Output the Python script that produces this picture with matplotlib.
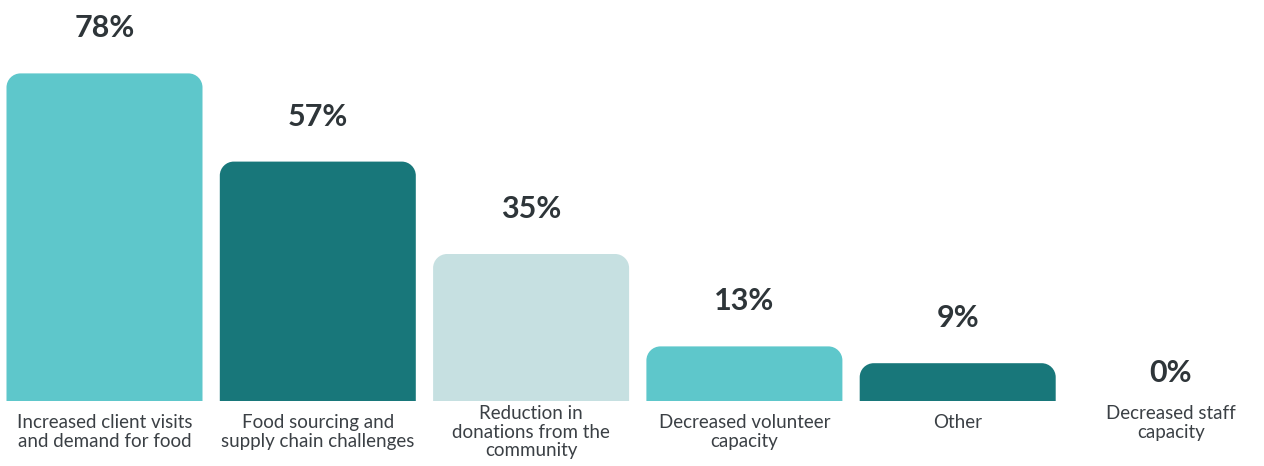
import matplotlib
matplotlib.use("Agg")
import matplotlib.pyplot as plt
from matplotlib.path import Path
from matplotlib.patches import PathPatch

categories = [
    "Increased client visits\nand demand for food",
    "Food sourcing and\nsupply chain challenges",
    "Reduction in\ndonations from the\ncommunity",
    "Decreased volunteer\ncapacity",
    "Other",
    "Decreased staff\ncapacity",
]
values = [78, 57, 35, 13, 9, 0]
colors = ["#5EC7CB", "#18777A", "#C6E0E1", "#5EC7CB", "#18777A", "#5EC7CB"]

W, H, DPI = 1264, 466, 100
fig = plt.figure(figsize=(W / DPI, H / DPI), dpi=DPI)
ax = fig.add_axes([0, 0, 1, 1])

# pixel scale: ~213 px between bars, 4.2 px per percentage point
px_x = 213.3
px_y = 4.2
x0_px = 104.5
base_px = 401.0
ax.set_xlim(-x0_px / px_x, (W - x0_px) / px_x)
ax.set_ylim(-(H - base_px) / px_y, base_px / px_y)
ax.axis("off")

bar_w = 196 / px_x
radius_px = 14.0
rx = radius_px / px_x
ry = radius_px / px_y
k = 0.5523


def top_rounded_bar(xc, h):
    l, r = xc - bar_w / 2, xc + bar_w / 2
    verts = [
        (l, 0), (l, h - ry),
        (l, h - ry + k * ry), (l + rx - k * rx, h), (l + rx, h),
        (r - rx, h),
        (r - rx + k * rx, h), (r, h - ry + k * ry), (r, h - ry),
        (r, 0), (l, 0),
    ]
    codes = [Path.MOVETO, Path.LINETO,
             Path.CURVE4, Path.CURVE4, Path.CURVE4,
             Path.LINETO,
             Path.CURVE4, Path.CURVE4, Path.CURVE4,
             Path.LINETO, Path.CLOSEPOLY]
    return Path(verts, codes)


value_color = "#2E3539"
label_color = "#3B4045"

for i, (cat, v, c) in enumerate(zip(categories, values, colors)):
    if v > 0:
        ax.add_patch(PathPatch(top_rounded_bar(i, v), facecolor=c,
                               edgecolor="none"))
    off = (45 if v > 0 else 28) / px_y
    ax.text(i, v + off, f"{v}%", ha="center", va="center",
            fontsize=22, fontweight="bold", color=value_color,
            family="Lato")
    nlines = cat.count("\n") + 1
    gap = 13 if (nlines < 3 and v > 0) else 4
    ax.text(i, -gap / px_y, cat, ha="center", va="top", fontsize=13.5,
            color=label_color, family="Lato", linespacing=1.12)

fig.savefig("out.png", dpi=DPI, facecolor="white")
